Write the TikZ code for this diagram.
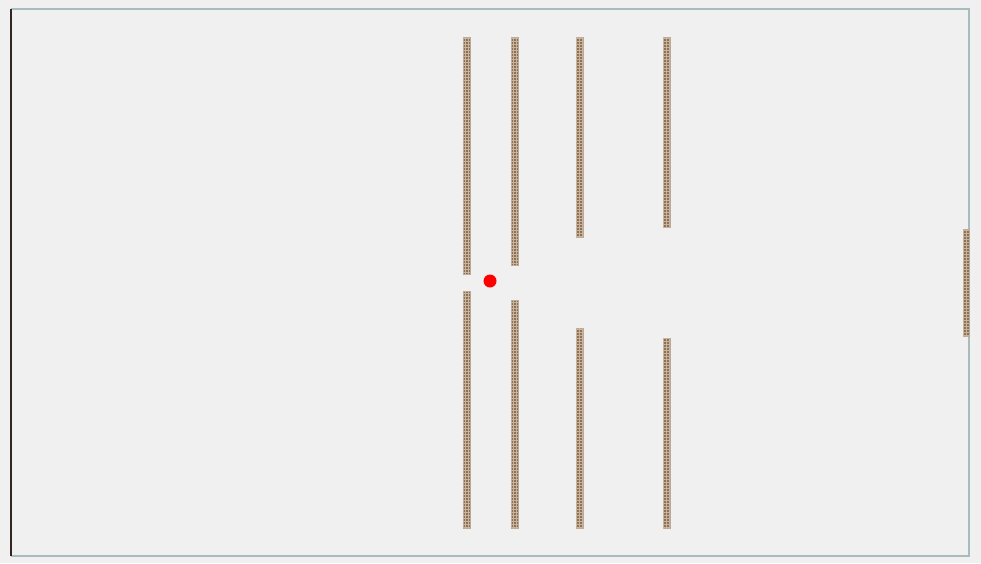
\documentclass[tikz,border=0pt]{standalone}
\usepackage{tikz}
\usetikzlibrary{patterns}
\definecolor{PanelGray}{RGB}{240,240,240}
\definecolor{FrameBlue}{RGB}{168,188,190}
\definecolor{FrameDark}{RGB}{50,38,30}
\definecolor{WallBrown}{RGB}{140,112,88}
\definecolor{WallLight}{RGB}{200,180,155}
\definecolor{AgentRed}{RGB}{255,0,0}

\begin{document}
\begin{tikzpicture}[
        x=1pt,y=-1pt,
        wall/.style={fill=WallBrown,draw=WallBrown!60!white,line width=0.4pt,
          postaction={pattern=grid,pattern color=WallLight}},
        agent/.style={circle,fill=AgentRed,inner sep=0pt,minimum size=13pt},
        frameEdge/.style={draw=FrameBlue,line width=1.2pt},
        leftEdge/.style={draw=FrameDark,line width=1.6pt}]
        \fill[PanelGray] (0,0) rectangle (981,563);
        \useasboundingbox (0,0) rectangle (981,563);
        \draw[frameEdge] (11,9) -- (969,9) -- (969,556) -- (11,556);
        \draw[leftEdge] (11,9) -- (11,556);
        % wall columns: x, top gap end, bottom gap start
        \foreach \wx/\wa/\wb in {463/274/291,511/265/300,576/237/328,663/227/338}{
          \path[wall] (\wx,37) rectangle (\wx+7,\wa);
          \path[wall] (\wx,\wb) rectangle (\wx+7,528);
        }
        \path[wall] (963,229) rectangle (969,336);
        \node[agent] (agent) at (490,281) {};
      \end{tikzpicture}
\end{document}
